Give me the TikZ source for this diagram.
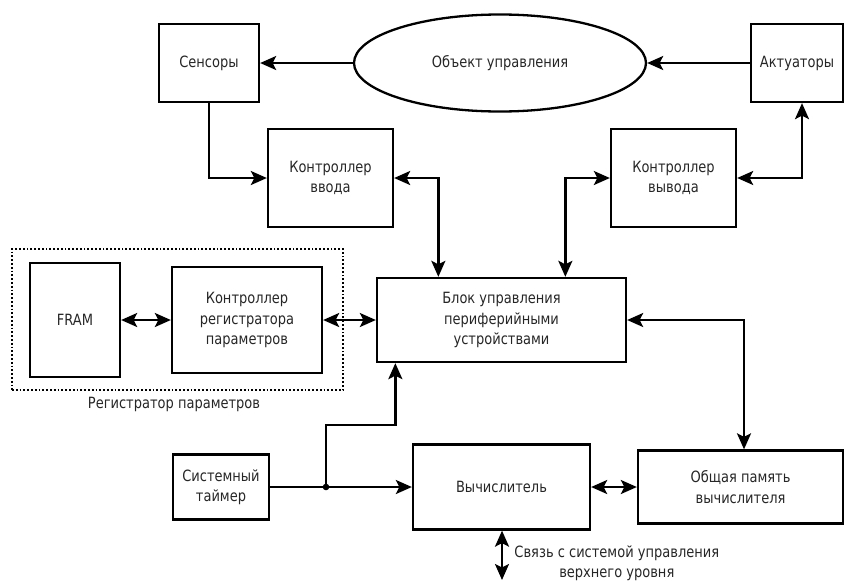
\documentclass[tikz,border=0pt]{standalone}
\usepackage{fontspec}
\setmainfont{DejaVu Sans}[FakeStretch=0.84]
\usetikzlibrary{arrows.meta, shapes.geometric}

\begin{document}
\begin{tikzpicture}[x=1pt, y=-1pt, line width=2.3pt, font=\fontsize{15.5}{20.5}\selectfont,
  box/.style={draw, align=center, inner sep=0pt, text=black!85},
  group/.style={draw, dotted, line width=1.8pt},
  arr/.style={-{Stealth[length=16pt,width=14pt,inset=3.5pt]}},
  biarr/.style={{Stealth[length=16pt,width=14pt,inset=3.5pt]}-{Stealth[length=16pt,width=14pt,inset=3.5pt]}}]
\useasboundingbox (0,0) rectangle (844,581);
\node[box, minimum width=100pt, minimum height=78pt](sens) at (209,63) {Сенсоры};
\node[draw, ellipse, minimum width=292pt, minimum height=97pt, text=black!85](obj) at (500,63) {Объект управления};
\node[box, minimum width=92pt, minimum height=78pt](act) at (797,63) {Актуаторы};
\node[box, minimum width=125pt, minimum height=98pt](kin) at (330.5,178) {Контроллер\\ввода};
\node[box, minimum width=125pt, minimum height=98pt](kout) at (673.5,178) {Контроллер\\вывода};
\node[box, minimum width=90pt, minimum height=114pt](fram) at (75,320) {FRAM};
\node[box, minimum width=150pt, minimum height=106pt](kreg) at (247,320) {Контроллер\\регистратора\\параметров};
\node[group, minimum width=331pt, minimum height=141pt](reg) at (177.5,319.5) {};
\node[text=black!85](reglbl) at (174,404) {Регистратор параметров};
\node[box, minimum width=249pt, minimum height=84pt](blk) at (501.5,320) {Блок управления\\периферийными\\устройствами};
\node[box, minimum width=96pt, minimum height=65pt](timer) at (221,487) {Системный\\таймер};
\node[box, minimum width=177pt, minimum height=85pt](calc) at (501.5,487) {Вычислитель};
\node[box, minimum width=205pt, minimum height=73pt](mem) at (740.5,487) {Общая память\\вычислителя};
\node[anchor=west, align=center, text=black!85](link) at (510,563) {Связь с системой управления\\верхнего уровня};
\coordinate(jn) at (326,487);
\coordinate(ext) at (502,580);
\draw[arr] (obj) -- (sens);
\draw[arr] (act) -- (obj);
\draw[arr] (sens.south) |- (kin.west);
\draw[biarr] (kin.east) -| ([xshift=62.5pt]blk.north west);
\draw[biarr] (kout.west) -| ([xshift=189.5pt]blk.north west);
\draw[biarr] (kout.east) -| ([xshift=5pt]act.south);
\draw[biarr] (fram) -- (kreg);
\draw[biarr] (kreg.east) -- (kreg.east -| blk.west);
\draw[biarr] (blk.east) -| ([xshift=3.5pt]mem.north);
\draw[biarr] (calc) -- (mem);
\draw[arr] (timer) -- (calc);
\fill (jn) circle (3.3pt);
\draw[arr] (jn) -- (jn |- 0,425) -| ([xshift=19.5pt]blk.south west);
\draw[biarr] (calc.south -| ext) -- (ext);
\end{tikzpicture}
\end{document}
